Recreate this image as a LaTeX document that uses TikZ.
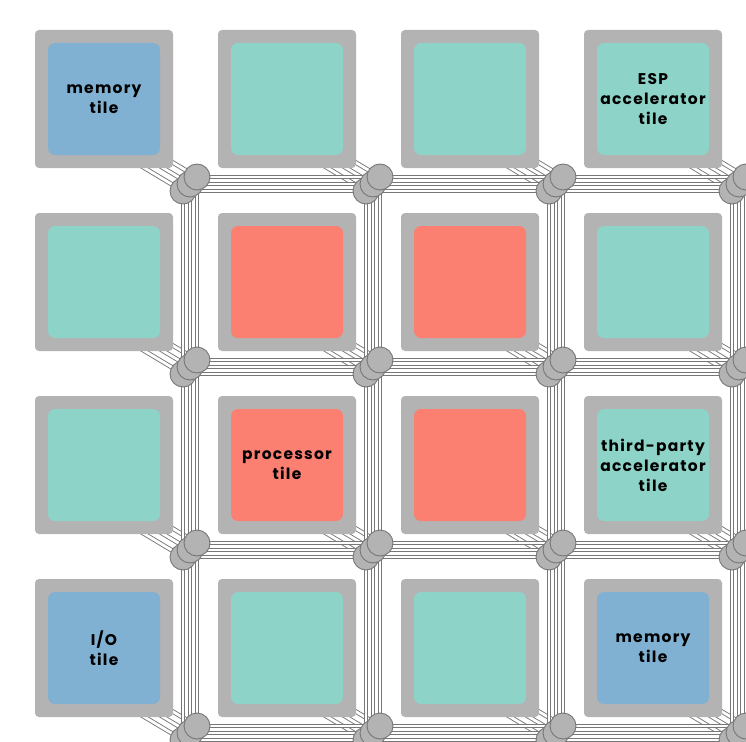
\documentclass[tikz,border=0pt]{standalone}
\usepackage{fontspec}
\usepackage{tikz}
\usetikzlibrary{backgrounds,calc}
\newfontfamily\tilefont{Poppins}[LetterSpace=8]
\definecolor{memblue}{HTML}{80B1D3}
\definecolor{accteal}{HTML}{8DD3C7}
\definecolor{cpusalmon}{HTML}{FB8072}
\definecolor{tilegray}{HTML}{B3B3B3}
\definecolor{wiregray}{HTML}{777777}

\begin{document}
\begin{tikzpicture}[
    x=1pt,y=-1pt,
    tile/.style={fill=tilegray,rounded corners=4pt,minimum size=138pt,inner sep=0pt},
    core/.style={fill=#1,rounded corners=7pt,minimum size=112pt,inner sep=0pt,align=center,
      font=\tilefont\bfseries\fontsize{15.5}{20}\selectfont},
    router/.style={circle,fill=tilegray,draw=wiregray,line width=0.9pt,minimum size=26pt,inner sep=0pt},
    wire/.style={draw=wiregray,line width=0.9pt,double=white,double distance=2.8pt}
  ]
  \useasboundingbox (0,0) rectangle (746,741);
  \clip (0,0) rectangle (746,741);
  \foreach \k in {2,1,0}
    \foreach \i in {0,...,3}
      \foreach \j in {0,...,3}
        \node[router] (r-\i-\j-\k) at ({197+183*\i-7*\k},{177+183*\j+7*\k}) {};
  \foreach \i/\j/\c/\txt in {
      0/0/memblue/{memory\\tile}, 1/0/accteal/{}, 2/0/accteal/{}, 3/0/accteal/{ESP\\accelerator\\tile},
      0/1/accteal/{}, 1/1/cpusalmon/{}, 2/1/cpusalmon/{}, 3/1/accteal/{},
      0/2/accteal/{}, 1/2/cpusalmon/{processor\\tile}, 2/2/cpusalmon/{}, 3/2/accteal/{third-party\\accelerator\\tile},
      0/3/memblue/{I/O\\tile}, 1/3/accteal/{}, 2/3/accteal/{}, 3/3/memblue/{memory\\tile}} {
    \node[tile] (t-\i-\j) at ({104+183*\i},{99+183*\j}) {};
    \node[core=\c] (c-\i-\j) at (t-\i-\j) {\txt};
  }
  \begin{scope}[on background layer]
    \foreach \k in {2,1,0}
      \foreach \i in {0,...,3}
        \foreach \j in {0,...,3}
          \draw[wire] (r-\i-\j-\k.center) -- ([shift={({-26-7*\k},{-21+7*\k})}]t-\i-\j.south east);
    \foreach \k in {2,1,0}
      \foreach \a/\b in {0/1,1/2,2/3}
        \foreach \n in {0,...,3} {
          \draw[wire] (r-\a-\n-\k.center) -- (r-\b-\n-\k.center);
          \draw[wire] (r-\n-\a-\k.center) -- (r-\n-\b-\k.center);
        }
  \end{scope}
\end{tikzpicture}
\end{document}
